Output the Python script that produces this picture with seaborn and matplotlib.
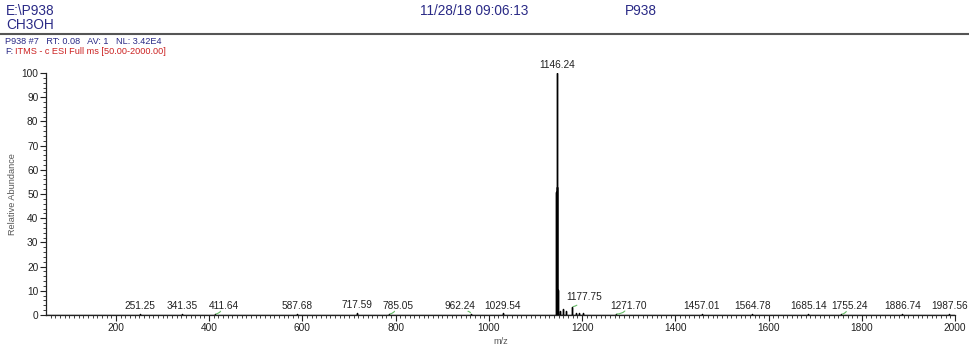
import numpy as np
import pandas as pd
import matplotlib
matplotlib.use("Agg")
import matplotlib.pyplot as plt
import seaborn as sns

# ---- data ----
peak_mz = [251.25, 341.35, 411.64, 587.68, 717.59, 785.05, 962.24, 1029.54,
           1144.90, 1145.50, 1146.24, 1147.60, 1152.0, 1160.0, 1165.5, 1177.75,
           1186.0, 1194.0, 1202.0, 1271.70, 1457.01, 1564.78, 1685.14, 1755.24,
           1886.74, 1987.56]
peak_int = [0.4, 0.5, 0.4, 0.4, 0.9, 0.4, 0.4, 0.7,
            51.0, 53.0, 100.0, 10.5, 1.5, 2.5, 1.5, 3.4,
            1.0, 0.8, 0.8, 0.5, 0.3, 0.3, 0.3, 0.3,
            0.3, 0.3]
label_mz = [251.25, 341.35, 411.64, 587.68, 717.59, 785.05, 962.24, 1029.54,
            1146.24, 1177.75, 1271.70, 1457.01, 1564.78, 1685.14, 1755.24,
            1886.74, 1987.56]
label_txt = ["251.25", "341.35", "411.64", "587.68", "717.59", "785.05", "962.24",
             "1029.54", "1146.24", "1177.75", "1271.70", "1457.01", "1564.78",
             "1685.14", "1755.24", "1886.74", "1987.56"]
# labels displaced from their peak (pixels) and joined by a green leader
label_shift_px = {411.64: 9, 785.05: 9, 962.24: -11, 1177.75: 12,
                  1271.70: 13, 1755.24: 9}
x_ticks = [200, 400, 600, 800, 1000, 1200, 1400, 1600, 1800, 2000]
y_ticks = [0, 10, 20, 30, 40, 50, 60, 70, 80, 90, 100]
mz_range = [50.0, 2000.0]

sns.set_theme(style="ticks")
plt.rcParams["font.family"] = ["Liberation Sans", "DejaVu Sans"]

# stick spectrum built from the peak lists
xs, ys = [mz_range[0]], [0.0]
for m, v in zip(peak_mz, peak_int):
    xs += [m, m, m]
    ys += [0.0, v, 0.0]
xs.append(mz_range[1]); ys.append(0.0)
df = pd.DataFrame({"mz": xs, "ab": ys})

fig = plt.figure(figsize=(9.7, 3.49), dpi=100)
ax = fig.add_axes([46 / 970, 34 / 349, 909 / 970, 242 / 349])
sns.lineplot(data=df, x="mz", y="ab", sort=False, estimator=None,
             color="black", lw=1.0, ax=ax)

ax.set_xlim(*mz_range)
ax.set_ylim(0, 100)
sns.despine(ax=ax)
for s in ("left", "bottom"):
    ax.spines[s].set_color("#222222")
    ax.spines[s].set_linewidth(0.9)
ax.set_xticks(x_ticks)
ax.set_yticks(y_ticks)
ax.set_xticks(np.arange(60, 2001, 10), minor=True)
ax.set_yticks(np.arange(0, 101, 2), minor=True)
ax.tick_params(axis="both", which="major", length=4, width=0.8,
               labelsize=7.3, colors="#222222", pad=1.5)
ax.tick_params(axis="both", which="minor", length=2.2, width=0.6, colors="#222222")
ax.set_xlabel("m/z", fontsize=6.6, color="#555555", labelpad=3)
ax.set_ylabel("Relative Abundance", fontsize=6.6, color="#555555", labelpad=3)

ab_lookup = dict(zip(peak_mz, peak_int))
for m, t in zip(label_mz, label_txt):
    h = ab_lookup.get(m, 0.0)
    dx = label_shift_px.get(m, 0) * 72 / 100.0
    if m in label_shift_px:
        up = 3.5 if m == 1177.75 else 2.0
        ax.annotate(t, xy=(m, h), xytext=(dx, up), textcoords="offset points",
                    ha="center", va="bottom", fontsize=7.3, color="#222222",
                    annotation_clip=False,
                    arrowprops=dict(arrowstyle="-", color="#66bb66", lw=0.8,
                                    shrinkA=0, shrinkB=1,
                                    connectionstyle="arc3,rad=-0.25",
                                    relpos=(0.4 if dx > 0 else 0.75, 0.0)))
    else:
        ax.annotate(t, xy=(m, h), xytext=(0, 2.0), textcoords="offset points",
                    ha="center", va="bottom", fontsize=7.3, color="#222222",
                    annotation_clip=False)

# header
navy = "#2a2a86"
fig.text(6 / 970, 1 - 11 / 349, "E:\\P938", fontsize=9.8, color=navy, va="center")
fig.text(6 / 970, 1 - 25 / 349, "CH3OH", fontsize=9.8, color=navy, va="center")
fig.text(420 / 970, 1 - 11 / 349, "11/28/18 09:06:13", fontsize=9.8, color=navy, va="center")
fig.text(625 / 970, 1 - 11 / 349, "P938", fontsize=9.8, color=navy, va="center")
fig.add_artist(plt.Line2D([0, 1], [1 - 33.5 / 349, 1 - 33.5 / 349],
                          transform=fig.transFigure, color="#555555", lw=1.5))
fig.text(5 / 970, 1 - 41 / 349, "P938 #7   RT: 0.08   AV: 1   NL: 3.42E4",
         fontsize=6.6, color=navy, va="center")
fig.text(5 / 970, 1 - 52 / 349, "F:", fontsize=6.6, color=navy, va="center")
fig.text(15 / 970, 1 - 52 / 349, "ITMS - c ESI Full ms [50.00-2000.00]",
         fontsize=6.6, color="#cc2222", va="center")

fig.savefig("out.png", dpi=100)
